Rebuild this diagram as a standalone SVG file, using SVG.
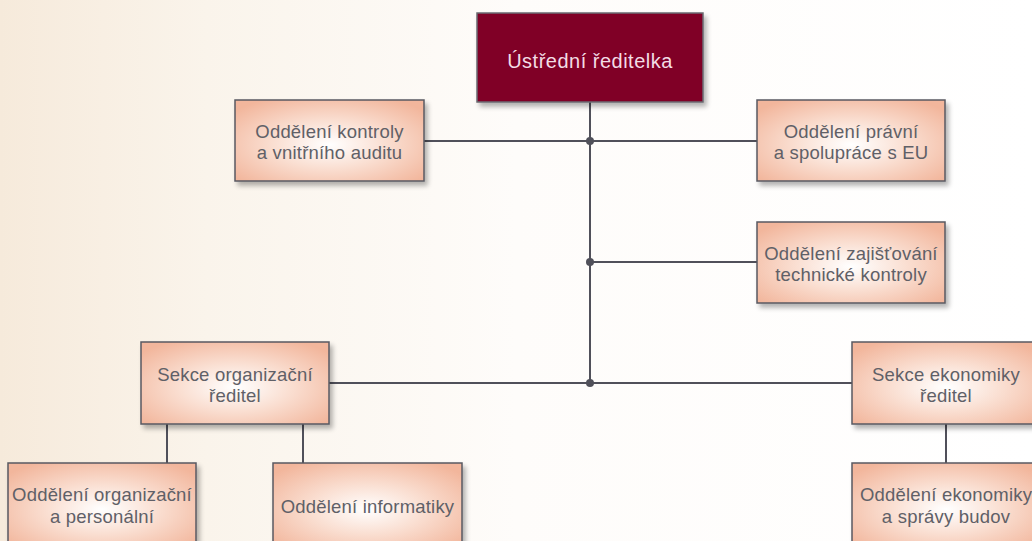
<svg xmlns="http://www.w3.org/2000/svg" width="1032" height="541" viewBox="0 0 1032 541">
<defs>
<linearGradient id="bg" x1="0" y1="0" x2="1" y2="0">
<stop offset="0" stop-color="#f6eadb"/>
<stop offset="0.2" stop-color="#faf4eb"/>
<stop offset="0.5" stop-color="#fefcfa"/>
<stop offset="1" stop-color="#ffffff"/>
</linearGradient>
<radialGradient id="box" cx="0.5" cy="0.55" r="0.65">
<stop offset="0" stop-color="#ffffff"/>
<stop offset="0.45" stop-color="#fadfd2"/>
<stop offset="1" stop-color="#f2b69c"/>
</radialGradient>
<filter id="sh" x="-10%" y="-10%" width="130%" height="140%">
<feGaussianBlur in="SourceAlpha" stdDeviation="2.5"/>
<feOffset dx="3" dy="4" result="b"/>
<feComponentTransfer><feFuncA type="linear" slope="0.3"/></feComponentTransfer>
<feMerge><feMergeNode/><feMergeNode in="SourceGraphic"/></feMerge>
</filter>
</defs>
<style>
.n{fill:url(#box);stroke:#585862;stroke-width:1.5;filter:url(#sh)}
.t{font-family:"Liberation Sans",Arial,sans-serif;font-size:18.5px;fill:#606067;text-anchor:middle;letter-spacing:0.2px}
.c{stroke:#50505a;stroke-width:2;fill:none}
.d{fill:#50505a}
</style>
<rect width="1032" height="541" fill="url(#bg)"/>
<g id="connectors">
<path class="c" d="M590 102V383M424 141H757M590 262H757M329 383H852M167 424V463M303 424V463M946 424V463"/>
<circle class="d" cx="590" cy="141" r="4"/>
<circle class="d" cx="590" cy="262" r="4"/>
<circle class="d" cx="590" cy="383" r="4"/>
</g>
<g id="n-top">
<rect x="477" y="13" width="226" height="89" fill="#800528" stroke="#6a6a70" stroke-width="1.5" filter="url(#sh)"/>
<text x="590" y="68" style="font-family:'Liberation Sans',Arial,sans-serif;font-size:20px;fill:#f3dde5;text-anchor:middle;letter-spacing:0.5px">Ústřední ředitelka</text>
</g>
<g id="n-kontrola">
<rect class="n" x="235" y="100" width="189" height="81"/>
<text class="t" x="329.5" y="138">Oddělení kontroly</text>
<text class="t" x="329.5" y="159">a vnitřního auditu</text>
</g>
<g id="n-pravni">
<rect class="n" x="757" y="100" width="188" height="81"/>
<text class="t" x="851" y="138">Oddělení právní</text>
<text class="t" x="851" y="159">a spolupráce s EU</text>
</g>
<g id="n-technicka">
<rect class="n" x="757" y="222" width="188" height="81"/>
<text class="t" x="851" y="260">Oddělení zajišťování</text>
<text class="t" x="851" y="281">technické kontroly</text>
</g>
<g id="n-sekce-org">
<rect class="n" x="141" y="342" width="188" height="82"/>
<text class="t" x="235" y="381">Sekce organizační</text>
<text class="t" x="235" y="402">ředitel</text>
</g>
<g id="n-sekce-eko">
<rect class="n" x="852" y="342" width="188" height="82"/>
<text class="t" x="946" y="381">Sekce ekonomiky</text>
<text class="t" x="946" y="402">ředitel</text>
</g>
<g id="n-org-pers">
<rect class="n" x="8" y="463" width="188" height="84"/>
<text class="t" x="102" y="501">Oddělení organizační</text>
<text class="t" x="102" y="523">a personální</text>
</g>
<g id="n-informatika">
<rect class="n" x="273" y="463" width="189" height="84"/>
<text class="t" x="367.5" y="513">Oddělení informatiky</text>
</g>
<g id="n-eko-budov">
<rect class="n" x="852" y="463" width="188" height="84"/>
<text class="t" x="946" y="501">Oddělení ekonomiky</text>
<text class="t" x="946" y="523">a správy budov</text>
</g>
</svg>
